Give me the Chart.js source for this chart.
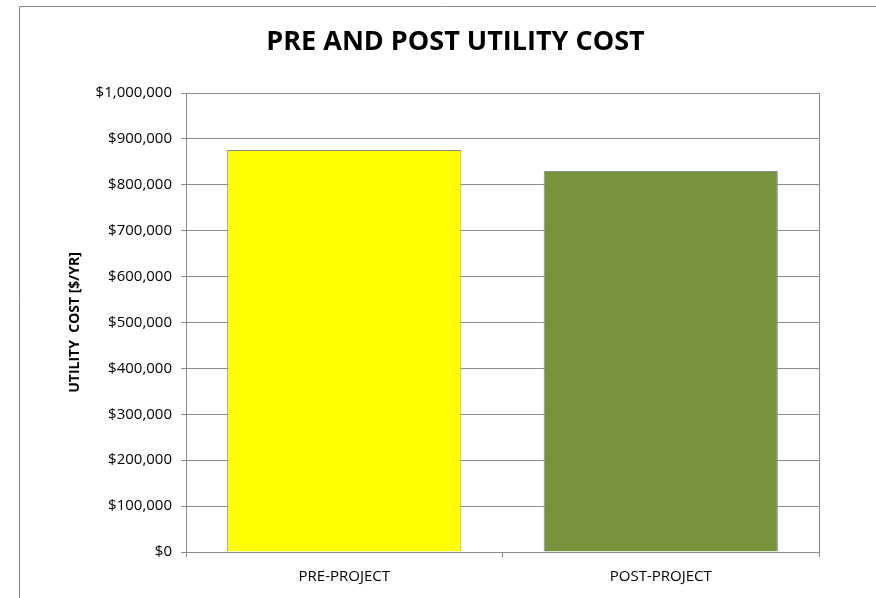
<!DOCTYPE html>
<html><head><meta charset="utf-8">
<script src="https://cdn.jsdelivr.net/npm/chart.js@4"></script>
<style>html,body{margin:0;padding:0;background:#fff;}#wrap{width:876px;height:598px;}</style>
</head><body><div id="wrap"><canvas id="c" width="876" height="598"></canvas></div>
<script>
const categories = ["PRE-PROJECT", "POST-PROJECT"];
const utilityCost = [876000, 830000];
const barColors = ["#FFFF00", "#77933C"];
const yTickStep = 100000;
const yMax = 1000000;

const frame = {
  id: 'frame',
  beforeDraw(chart) {
    const ctx = chart.ctx;
    ctx.save();
    ctx.strokeStyle = '#888888';
    ctx.lineWidth = 1;
    ctx.beginPath();
    ctx.moveTo(19.5, 598); ctx.lineTo(19.5, 6.5); ctx.lineTo(876, 6.5);
    ctx.stroke();
    ctx.restore();
  },
  afterDatasetsDraw(chart) {
    const a = chart.chartArea, ctx = chart.ctx;
    ctx.save();
    ctx.strokeStyle = '#888888';
    ctx.lineWidth = 1;
    ctx.beginPath();
    ctx.moveTo(Math.round(a.right) + 0.5, a.top);
    ctx.lineTo(Math.round(a.right) + 0.5, a.bottom);
    ctx.stroke();
    ctx.restore();
  }
};

new Chart(document.getElementById('c'), {
  type: 'bar',
  data: {
    labels: categories,
    datasets: [{
      data: utilityCost,
      backgroundColor: barColors,
      borderColor: '#8c8c8c',
      borderWidth: 1,
      categoryPercentage: 0.74,
      barPercentage: 1.0
    }]
  },
  options: {
    responsive: false,
    animation: false,
    layout: { padding: { left: 92, right: 57, top: 26, bottom: 12 } },
    plugins: {
      legend: { display: false },
      tooltip: { enabled: false },
      title: {
        display: true,
        text: 'PRE AND POST UTILITY COST',
        color: '#000',
        font: { family: 'Open Sans', size: 27, weight: 'bold' },
        padding: { top: 0, bottom: 34.6 }
      }
    },
    scales: {
      y: {
        min: 0, max: yMax,
        afterFit(s) { s.width = 94; },
        ticks: {
          stepSize: yTickStep,
          color: '#000',
          font: { family: 'Open Sans', size: 15 },
          padding: 9,
          callback: v => '$' + v.toLocaleString('en-US')
        },
        grid: { color: '#8c8c8c', tickLength: 5, tickColor: '#8c8c8c' },
        border: { color: '#8c8c8c' },
        title: {
          display: true,
          text: 'UTILITY  COST [$/YR]',
          color: '#000',
          font: { family: 'Open Sans', size: 14, weight: 'bold' },
          padding: { top: -25, bottom: 0 }
        }
      },
      x: {
        afterFit(s) { s.height = 34; },
        ticks: {
          color: '#000',
          font: { family: 'Open Sans', size: 15 },
          padding: 11
        },
        grid: { drawOnChartArea: false, offset: true, tickLength: 5, color: '#8c8c8c' },
        border: { color: '#8c8c8c' }
      }
    }
  },
  plugins: [frame]
});
</script></body></html>
